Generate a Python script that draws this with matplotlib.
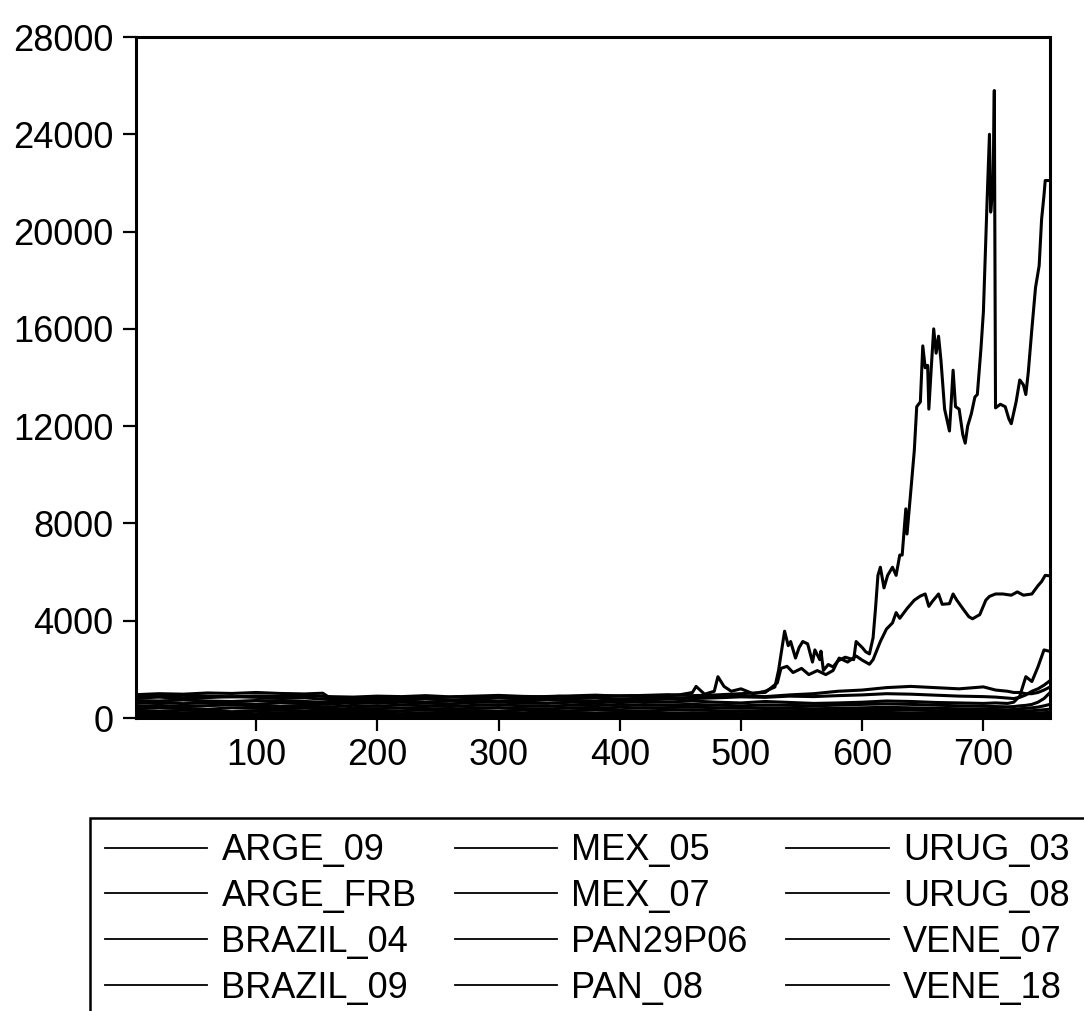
import matplotlib
matplotlib.use('Agg')
import matplotlib.pyplot as plt

plt.rcParams['font.family'] = ['Liberation Sans', 'DejaVu Sans']

# series names, in legend order
names = ['ARGE_09', 'ARGE_FRB', 'BRAZIL_04', 'BRAZIL_09',
         'MEX_05', 'MEX_07', 'PAN29P06', 'PAN_08',
         'URUG_03', 'URUG_08', 'VENE_07', 'VENE_18']

# ARGE_FRB: the one that blows up at the end
frb_x = [1, 20, 40, 60, 80, 100, 120, 140, 155, 160, 170, 190, 210, 230, 250,
         270, 290, 310, 330, 350, 370, 390, 410, 430, 450, 460, 463, 470, 478,
         481, 486, 492, 500, 510, 520, 528, 531, 536, 539, 541, 545, 548, 551,
         555, 559, 561, 565, 566, 568, 572, 576, 580, 586, 593, 595, 600, 603,
         606, 609, 611, 613, 615, 618, 621, 625, 628, 631, 633, 636, 637, 640,
         643, 645, 648, 650, 652, 654, 655, 657, 659, 661, 663, 665, 668, 672,
         673, 675, 677, 680, 683, 685, 687, 690, 693, 695, 698, 700, 703, 705,
         706, 708, 709, 710, 714, 718, 721, 723, 727, 730, 733, 735, 737, 740,
         743, 746, 748, 750, 751, 754]
frb_y = [960, 1000, 980, 1030, 1010, 1050, 1010, 990, 1020, 860, 780, 820, 860,
         800, 840, 880, 850, 830, 870, 900, 860, 910, 920, 880, 960, 1050, 1300,
         980, 1100, 1700, 1300, 1100, 1200, 1000, 1100, 1275, 1955, 3570, 2975,
         3145, 2465, 2900, 3145, 3050, 2300, 2800, 2400, 2750, 1955, 2200, 2100,
         2350, 2500, 2400, 3145, 2900, 2720, 2635, 3300, 4500, 5865, 6200, 5350,
         5865, 6200, 5865, 6700, 6700, 8600, 7565, 9265, 11000, 12800, 13000,
         15300, 14400, 14500, 12700, 14400, 16000, 15000, 15700, 14700, 12700,
         11800, 12600, 14300, 12800, 12700, 11650, 11300, 12000, 12500, 13200,
         13300, 15200, 16700, 21200, 24000, 20800, 22000, 25800, 12750, 12900,
         12800, 12300, 12100, 13000, 13900, 13700, 13300, 14200, 16000, 17700,
         18600, 20500, 21500, 22100, 22100]

# ARGE_09
a09_x = [1, 20, 40, 60, 80, 100, 120, 140, 160, 180, 200, 220, 240, 260, 280,
         300, 320, 340, 360, 380, 400, 420, 440, 460, 480, 500, 520,
         530, 533, 538, 543, 550, 556, 563, 570, 576, 581, 588, 595, 600, 606,
         609, 615, 620, 625, 628, 631, 637, 643, 648, 652, 655, 658, 663, 666,
         672, 675, 678, 683, 688, 691, 697, 702, 705, 710, 716, 723, 728, 733,
         740, 745, 748, 751, 754]
a09_y = [900, 880, 930, 900, 870, 910, 890, 920, 880, 860, 900, 880, 920, 870,
         900, 930, 890, 870, 910, 940, 900, 930, 960, 920, 950, 1000, 1050,
         1445, 2040, 2125, 1870, 2040, 1785, 1950, 1785, 1955, 2465, 2300, 2550,
         2380, 2210, 2400, 3145, 3655, 3910, 4335, 4100, 4500, 4845, 5015, 5100,
         4590, 4800, 5100, 4675, 4700, 5100, 4850, 4500, 4165, 4080, 4250, 4845,
         5000, 5100, 5100, 5050, 5185, 5050, 5100, 5440, 5610, 5865, 5850]

# the remaining series, read on a common set of days
days = [1, 20, 40, 60, 80, 100, 120, 140, 160, 180, 200, 220, 240, 260, 280,
        300, 320, 340, 360, 380, 400, 420, 440, 460, 480, 500, 520, 540, 560,
        580, 600, 620, 640, 660, 680, 700, 710, 720, 725, 730, 735, 740, 745,
        750, 754]
bra04 = [600, 640, 590, 630, 610, 570, 620, 590, 560, 640, 600, 650, 610, 580,
         640, 660, 610, 600, 650, 620, 680, 640, 660, 700, 650, 620, 680, 640,
         600, 620, 650, 700, 680, 640, 620, 600, 620, 600, 650, 900, 1700, 1500,
         2100, 2800, 2750]
bra09 = [820, 860, 800, 840, 880, 850, 800, 830, 760, 720, 780, 760, 800, 740,
         780, 820, 790, 760, 800, 830, 780, 820, 850, 800, 830, 870, 850, 900,
         880, 920, 950, 1000, 980, 940, 900, 880, 860, 820, 800, 850, 950, 1100,
         1200, 1350, 1500]
mex05 = [720, 700, 740, 700, 680, 720, 700, 680, 640, 700, 680, 700, 660, 700,
         720, 680, 700, 740, 720, 700, 760, 740, 780, 820, 860, 900, 880, 950,
         1000, 1100, 1150, 1250, 1300, 1250, 1200, 1280, 1150, 1100, 1050, 1050,
         1000, 1000, 1050, 1150, 1250]
mex07 = [480, 520, 470, 510, 540, 500, 470, 500, 450, 520, 480, 540, 500, 470,
         520, 550, 500, 480, 530, 510, 560, 520, 540, 560, 530, 500, 540, 520,
         500, 530, 560, 580, 560, 530, 500, 480, 470, 460, 470, 500, 520, 560,
         650, 800, 1000]
pan29 = [380, 420, 400, 360, 420, 400, 380, 410, 350, 400, 380, 420, 390, 360,
         410, 430, 390, 370, 420, 400, 440, 410, 430, 450, 420, 400, 420, 400,
         380, 400, 420, 440, 420, 400, 380, 360, 350, 340, 350, 380, 400, 420,
         450, 500, 550]
pan08 = [300, 280, 320, 300, 260, 300, 320, 290, 260, 320, 280, 300, 330, 280,
         310, 290, 320, 280, 300, 330, 310, 290, 320, 340, 300, 280, 310, 300,
         280, 310, 330, 350, 330, 300, 280, 270, 260, 250, 260, 270, 290, 300,
         320, 340, 360]
uru03 = [220, 180, 210, 240, 200, 180, 220, 200, 170, 230, 200, 180, 220, 190,
         210, 240, 200, 190, 220, 200, 230, 210, 190, 220, 200, 180, 210, 200,
         190, 220, 240, 230, 210, 200, 190, 180, 170, 160, 170, 180, 190, 200,
         210, 220, 230]
uru08 = [140, 160, 120, 150, 170, 140, 130, 160, 120, 150, 130, 160, 140, 110,
         150, 170, 140, 120, 150, 130, 160, 140, 150, 170, 140, 120, 150, 130,
         120, 140, 160, 170, 150, 130, 120, 110, 100, 100, 110, 120, 130, 140,
         150, 160, 170]
ven07 = [90, 110, 80, 100, 70, 100, 90, 110, 60, 100, 80, 110, 70, 60, 90, 100,
         80, 70, 100, 90, 110, 80, 100, 110, 90, 70, 100, 80, 60, 90, 100, 110,
         90, 80, 70, 60, 50, 50, 60, 70, 80, 90, 100, 110, 120]
ven18 = [40, 60, 30, 50, 40, 20, 50, 40, 10, 50, 30, 60, 40, 20, 50, 40, 30, 20,
         40, 50, 60, 40, 50, 60, 40, 30, 50, 40, 30, 40, 50, 60, 40, 30, 20, 20,
         10, 10, 20, 30, 40, 50, 60, 70, 80]

xticks = [100, 200, 300, 400, 500, 600, 700]
yticks = [0, 4000, 8000, 12000, 16000, 20000, 24000, 28000]

fig = plt.figure(figsize=(10.84, 10.11), dpi=100)
ax = fig.add_axes([0.1255, 0.2898, 0.8432, 0.6736])

lw = 2.2
handles = []
handles += ax.plot(a09_x, a09_y, color='black', lw=lw)
handles += ax.plot(frb_x, frb_y, color='black', lw=lw)
for s in [bra04, bra09, mex05, mex07, pan29, pan08, uru03, uru08, ven07, ven18]:
    handles += ax.plot(days, s, color='black', lw=lw)

ax.set_xlim(1, 755)
ax.set_ylim(0, 28000)
ax.set_xticks(xticks)
ax.set_yticks(yticks)
ax.set_xticklabels([str(t) for t in xticks])
ax.set_yticklabels([str(t) for t in yticks])
ax.tick_params(direction='out', length=9.5, width=1.6, labelsize=26,
               color='black', labelcolor='black')
ax.tick_params(axis='y', pad=7)
ax.tick_params(axis='x', pad=5)
for sp in ax.spines.values():
    sp.set_linewidth(2.2)
    sp.set_color('black')

# legend box runs off the right and bottom edges
leg = fig.legend(handles, names, ncol=3, loc='upper left',
                 bbox_to_anchor=(90 / 1084, 1 - 818 / 1011),
                 bbox_transform=fig.transFigure, borderaxespad=0,
                 fontsize=26, handlelength=2.83, handletextpad=0.39,
                 columnspacing=1.07, labelspacing=0.3, borderpad=0.42,
                 fancybox=False, frameon=True, edgecolor='black',
                 framealpha=1)
leg.get_frame().set_linewidth(1.8)
for ln in leg.get_lines():
    ln.set_linewidth(1.3)

fig.savefig('out.png', dpi=100)
